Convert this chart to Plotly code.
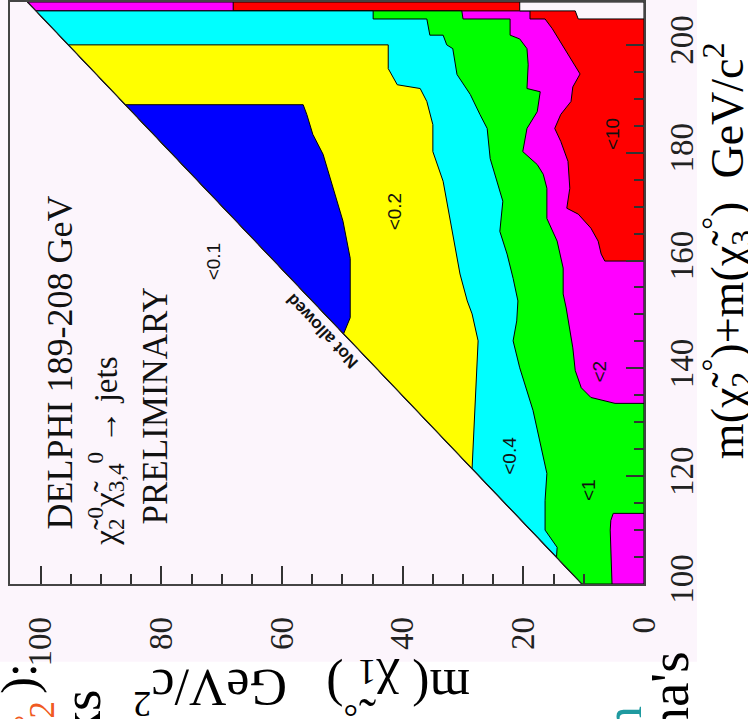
import numpy as np
import plotly.graph_objects as go

# ---------------- data ----------------
# axes: horizontal = m(chi1) [GeV/c^2] (reversed), vertical = m(chi2)+m(chi3) [GeV/c^2]
m1_range = [105.1, 0]
msum_range = [100, 207.95]
m1_ticks = [0, 20, 40, 60, 80, 100]
msum_ticks = [100, 120, 140, 160, 180, 200]
m1_minor = [10, 15, 25, 30, 35, 45, 50, 55, 65, 70, 75, 85, 90, 95]
msum_minor = [105, 110, 115, 125, 130, 135, 145, 150, 155, 165, 170, 175, 185, 190, 195]

# kinematic ("Not allowed") limit line
diag_m1 = [10.3, 102.2]
diag_msum = [100.0, 207.95]

# contour boundaries (m1, msum), from top to bottom
mag_m1 = [68.1, 68.1, 18.9, 18.9, 16.4, 15.2, 13.6, 12.1, 10.6, 11.8, 12.1, 13.8, 14.8, 13.8,
          12.6, 12.3, 12.8, 10.9, 8.8, 7.6, 7.1, 6.5, 0, 0]
mag_ms = [207.95, 206.3, 206.3, 204.8, 204.8, 203.0, 200.0, 197.4, 194.6, 192.2, 189.5, 187.1,
          184.5, 182.1, 178.4, 173.4, 169.7, 168.6, 166.0, 163.6, 161.2, 159.9, 159.9, 100]

grn_m1 = [30.2, 30.0, 22.2, 22.2, 20.6, 19.4, 19.2, 19.4, 17.2, 17.7, 19.4, 20.1, 17.7, 16.7,
          16.1, 16.1, 14.4, 13.4, 13.4, 12.9, 12.3, 11.8, 11.4, 10.4, 8.8, 4.8, 0, 0, 5.1, 5.5,
          5.6, 5.5, 5.3]
grn_ms = [206.3, 204.8, 204.8, 201.8, 201.1, 199.3, 196.3, 191.9, 191.3, 187.6, 184.5, 180.2,
          177.8, 176.0, 173.4, 167.8, 163.6, 158.6, 153.8, 151.2, 147.5, 143.8, 139.6, 136.4,
          134.6, 133.5, 133.5, 113.1, 113.1, 111.8, 110.0, 105.7, 100]

cyn_m1 = [44.9, 44.9, 36.0, 35.5, 33.3, 32.7, 31.7, 31.0, 28.8, 27.2, 26.0, 25.5, 24.4, 23.4,
          23.9, 22.7, 21.7, 20.9, 21.1, 21.7, 20.6, 18.4, 16.1, 16.4, 16.4, 14.4, 14.5]
cyn_ms = [206.3, 204.8, 204.8, 201.8, 201.8, 200.0, 199.3, 194.5, 190.8, 187.1, 184.5, 178.9,
          174.7, 171.0, 165.4, 161.2, 156.7, 152.5, 148.8, 145.1, 140.1, 132.2, 120.5, 115.5,
          110.0, 106.8, 105.0]

yel_m1 = [42.4, 42.4, 40.9, 37.1, 36.0, 35.0, 35.0, 33.3, 31.7, 30.5, 29.3, 28.5, 27.5, 27.7,
          28.0, 28.3, 28.5]
yel_ms = [200.0, 195.6, 192.6, 191.9, 189.5, 185.2, 180.2, 174.7, 164.9, 157.5, 152.5, 150.1,
          145.1, 140.1, 134.0, 126.6, 121.4]

blu_m1 = [56.5, 55.9, 54.9, 53.2, 51.5, 49.9, 48.7, 48.7, 49.8]
blu_ms = [188.9, 187.1, 183.4, 179.7, 173.4, 167.3, 160.4, 149.4, 146.4]

# empty corner above the kinematic reach (top right)
wht_m1 = [20.6, 0, 0, 10.9, 11.4, 20.6]
wht_ms = [207.95, 207.95, 204.8, 204.8, 206.3, 206.3]

# region labels
lab_text = ["&lt;0.1", "&lt;0.2", "&lt;0.4", "&lt;1", "&lt;2", "&lt;10"]
lab_m1 = [71.4, 41.3, 22.2, 9.3, 7.3, 5.1]
lab_ms = [159.9, 169.1, 123.8, 117.4, 139.4, 183.5]

PINK = "#fcf5fc"


def diag(ms):
    return float(np.interp(ms, diag_msum, diag_m1))


layers = [
    ("#ff0000", [diag(207.95), 0, 0, diag(100)], [207.95, 207.95, 100, 100]),
    ("#ff00ff", [diag(207.95)] + mag_m1 + [diag(100)], [207.95] + mag_ms + [100]),
    ("#00ff00", [diag(206.3)] + grn_m1 + [diag(100)], [206.3] + grn_ms + [100]),
    ("#00ffff", [diag(206.3)] + cyn_m1, [206.3] + cyn_ms),
    ("#ffff00", [diag(200.0)] + yel_m1, [200.0] + yel_ms),
    ("#0000ff", [diag(188.9)] + blu_m1, [188.9] + blu_ms),
    (PINK, wht_m1, wht_ms),
]

fig = go.Figure()
for color, xs, ys in layers:
    fig.add_trace(go.Scatter(
        x=xs + [xs[0]], y=ys + [ys[0]], mode="lines", fill="toself",
        fillcolor=color, line=dict(color="black", width=1),
        hoverinfo="skip", showlegend=False))

# kinematic limit line
fig.add_trace(go.Scatter(x=diag_m1, y=diag_msum, mode="lines",
                         line=dict(color="#222", width=1.2),
                         hoverinfo="skip", showlegend=False))

serif = "Liberation Serif"
sans = "Liberation Sans"
tickfont = dict(family=serif, size=33, color="#222")

ann = []
for t, xm, ym in zip(lab_text, lab_m1, lab_ms):
    ann.append(dict(x=xm, y=ym, xref="x", yref="y", text=t, showarrow=False,
                    textangle=-90, font=dict(family=sans, size=19, color="#111")))

ann.append(dict(x=53.4, y=146.9, xref="x", yref="y", text="<b>Not allowed</b>",
                showarrow=False, textangle=-133.5,
                font=dict(family=sans, size=17, color="#111")))

ann.append(dict(x=96.8, y=141.1, xref="x", yref="y", text="DELPHI 189-208 GeV",
                showarrow=False, textangle=-90,
                font=dict(family=serif, size=36, color="#111")))
ann.append(dict(x=89.3, y=124.6, xref="x", yref="y",
                text="χ\u0303<sub>2</sub><sup>0</sup>χ\u0303<sub>3,4</sub><sup>0</sup> → jets",
                showarrow=False, textangle=-90,
                font=dict(family=serif, size=33, color="#111")))
ann.append(dict(x=80.9, y=133.1, xref="x", yref="y", text="PRELIMINARY",
                showarrow=False, textangle=-90,
                font=dict(family=serif, size=35, color="#111")))


def px(xp):
    return (xp - 10) / 634.0


def py(yp):
    return (584 - yp) / 584.0


def pann(xpix, ypix, text, angle, size, color="#000", family=serif):
    return dict(x=px(xpix), y=py(ypix), xref="paper", yref="paper", text=text,
                showarrow=False, textangle=angle, xanchor="center", yanchor="middle",
                font=dict(family=family, size=size, color=color))


# axis titles
ann.append(pann(727, 250,
                "m(χ\u0303<sub>2</sub><sup>°</sup>)+m(χ\u0303<sub>3</sub><sup>°</sup>)  GeV/c<sup>2</sup>",
                -90, 46))
ann.append(pann(302, 688, "m( χ\u0303<sub>1</sub><sup>°</sup>)   GeV/c<sup>2</sup>", 180, 52))

# fragments of the surrounding slide
ann.append(pann(19, 679, "):", -90, 50))
ann.append(pann(43, 710, "2", -90, 35, "#f05a22"))
ann.append(pann(26, 722, "°", -90, 31, "#f05a22"))
ann.append(pann(82, 715, "ks", -90, 55))
ann.append(pann(670, 694, "na's", -90, 55))
ann.append(pann(623, 720, "n", -90, 53, "#1f9aa0"))

axis_common = dict(
    ticks="inside", ticklen=18, tickwidth=1.5, tickcolor="#333",
    showline=True, linewidth=1.5, linecolor="#444", mirror=True,
    showgrid=False, zeroline=False, tickangle=-90, tickfont=tickfont,
)

fig.update_layout(
    width=748, height=719,
    margin=dict(l=10, r=104, t=0, b=135),
    paper_bgcolor="white", plot_bgcolor=PINK,
    showlegend=False,
    xaxis=dict(range=m1_range, tickvals=m1_ticks, ticktext=[str(v) for v in m1_ticks],
               minor=dict(tickvals=m1_minor, ticks="inside", ticklen=10, tickwidth=1.5,
                          tickcolor="#333"),
               ticklabelstandoff=18, **axis_common),
    yaxis=dict(range=msum_range, side="right", tickvals=msum_ticks,
               ticktext=[str(v) for v in msum_ticks],
               minor=dict(tickvals=msum_minor, ticks="inside", ticklen=10, tickwidth=1.5,
                          tickcolor="#333"),
               ticklabelstandoff=8, **axis_common),
    annotations=ann,
    shapes=[dict(type="rect", xref="paper", yref="paper", x0=px(-5), x1=px(697),
                 y0=py(662), y1=py(-5), fillcolor=PINK, line=dict(width=0), layer="below")],
)

fig.write_html("out.html")
